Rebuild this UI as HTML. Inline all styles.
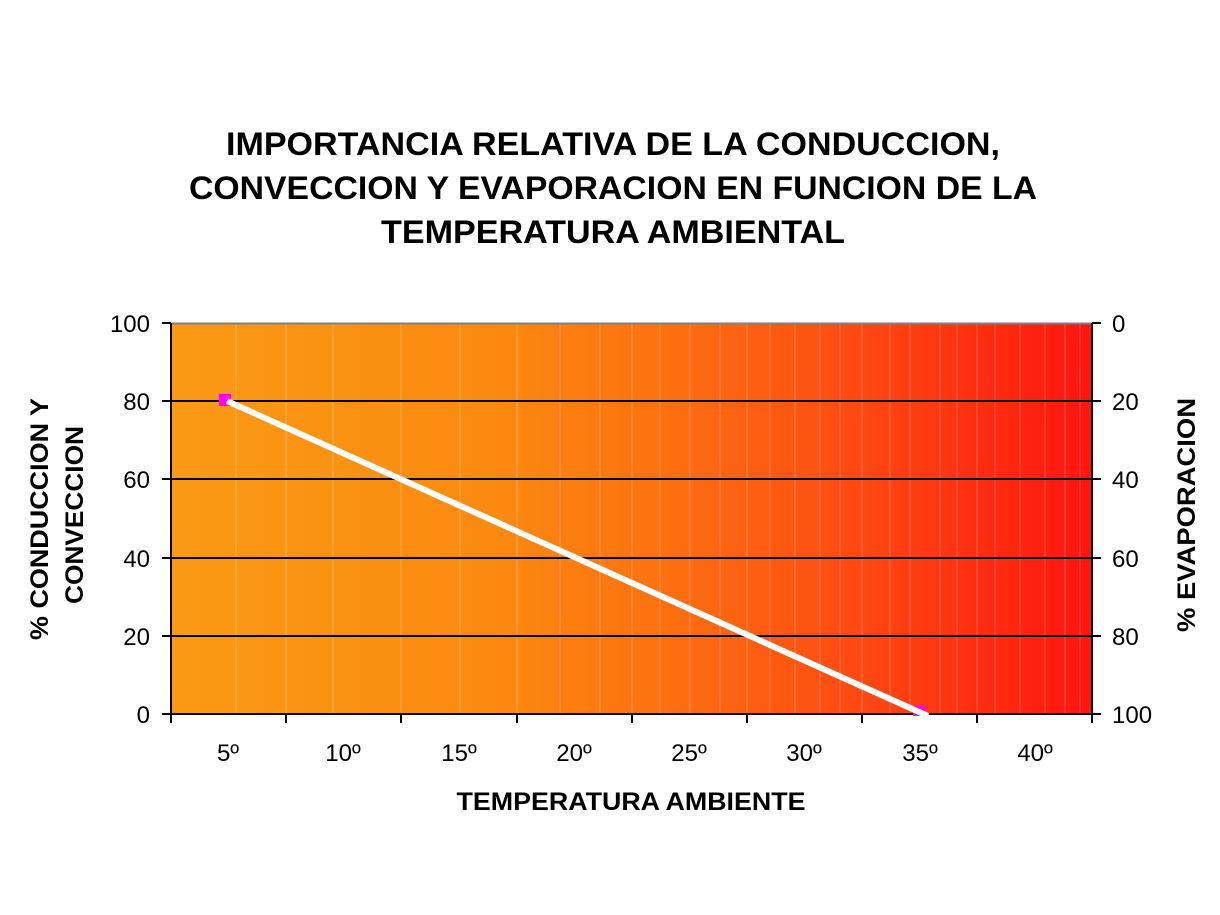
<!DOCTYPE html>
<html><head><meta charset="utf-8"><style>
body{margin:0;background:#fff;width:1220px;height:915px;overflow:hidden}
svg{display:block;font-family:"Liberation Sans",Arial,sans-serif}
</style></head><body>
<svg width="1220" height="915" viewBox="0 0 1220 915">
<defs>
<linearGradient id="g" x1="0" x2="1" y1="0" y2="0">
<stop offset="0" stop-color="#FA9A14"/>
<stop offset="0.35" stop-color="#FB8A10"/>
<stop offset="0.55" stop-color="#FC6E10"/>
<stop offset="0.75" stop-color="#FE4812"/>
<stop offset="1" stop-color="#FF140E"/>
</linearGradient>
</defs>
<g font-weight="bold" font-size="32" text-anchor="middle" fill="#000" lengthAdjust="spacingAndGlyphs">
<text x="613" y="155" textLength="774" lengthAdjust="spacingAndGlyphs">IMPORTANCIA RELATIVA DE LA CONDUCCION,</text>
<text x="613" y="199" textLength="848" lengthAdjust="spacingAndGlyphs">CONVECCION Y EVAPORACION EN FUNCION DE LA</text>
<text x="613" y="243" textLength="464" lengthAdjust="spacingAndGlyphs">TEMPERATURA AMBIENTAL</text>
</g>
<rect x="171" y="323" width="921" height="391" fill="url(#g)"/>
<g stroke="#fff" stroke-opacity="0.25" stroke-width="1">
<line x1="236" y1="323" x2="236" y2="714"/><line x1="286" y1="323" x2="286" y2="714"/><line x1="333" y1="323" x2="333" y2="714"/>
<line x1="401" y1="323" x2="401" y2="714"/><line x1="460" y1="323" x2="460" y2="714"/><line x1="517" y1="323" x2="517" y2="714"/>
<line x1="560" y1="323" x2="560" y2="714"/><line x1="600" y1="323" x2="600" y2="714"/><line x1="632" y1="323" x2="632" y2="714"/>
<line x1="660" y1="323" x2="660" y2="714"/><line x1="690" y1="323" x2="690" y2="714"/><line x1="720" y1="323" x2="720" y2="714"/>
<line x1="747" y1="323" x2="747" y2="714"/><line x1="770" y1="323" x2="770" y2="714"/><line x1="795" y1="323" x2="795" y2="714"/>
<line x1="820" y1="323" x2="820" y2="714"/><line x1="840" y1="323" x2="840" y2="714"/><line x1="862" y1="323" x2="862" y2="714"/>
<line x1="890" y1="323" x2="890" y2="714"/><line x1="910" y1="323" x2="910" y2="714"/><line x1="940" y1="323" x2="940" y2="714"/>
<line x1="957" y1="323" x2="957" y2="714"/><line x1="977" y1="323" x2="977" y2="714"/><line x1="995" y1="323" x2="995" y2="714"/>
<line x1="1020" y1="323" x2="1020" y2="714"/><line x1="1045" y1="323" x2="1045" y2="714"/><line x1="1065" y1="323" x2="1065" y2="714"/><line x1="1080" y1="323" x2="1080" y2="714"/>
</g>
<line x1="171" y1="323.5" x2="1092" y2="323.5" stroke="#808080" stroke-width="2"/>
<g stroke="#000" stroke-width="2">
<line x1="171" y1="401" x2="1092" y2="401"/><line x1="171" y1="479" x2="1092" y2="479"/>
<line x1="171" y1="558" x2="1092" y2="558"/><line x1="171" y1="636" x2="1092" y2="636"/>
<line x1="171" y1="714" x2="1092" y2="714"/>
<line x1="171" y1="323" x2="171" y2="714"/><line x1="1092" y1="323" x2="1092" y2="714"/>
<line x1="162" y1="323" x2="171" y2="323"/><line x1="162" y1="401" x2="171" y2="401"/><line x1="162" y1="479" x2="171" y2="479"/><line x1="162" y1="558" x2="171" y2="558"/><line x1="162" y1="636" x2="171" y2="636"/><line x1="162" y1="714" x2="171" y2="714"/>
<line x1="1092" y1="323" x2="1101" y2="323"/><line x1="1092" y1="401" x2="1101" y2="401"/><line x1="1092" y1="479" x2="1101" y2="479"/><line x1="1092" y1="558" x2="1101" y2="558"/><line x1="1092" y1="636" x2="1101" y2="636"/><line x1="1092" y1="714" x2="1101" y2="714"/>
<line x1="171" y1="714" x2="171" y2="723"/><line x1="286" y1="714" x2="286" y2="723"/><line x1="401" y1="714" x2="401" y2="723"/><line x1="517" y1="714" x2="517" y2="723"/><line x1="632" y1="714" x2="632" y2="723"/><line x1="747" y1="714" x2="747" y2="723"/><line x1="862" y1="714" x2="862" y2="723"/><line x1="977" y1="714" x2="977" y2="723"/><line x1="1092" y1="714" x2="1092" y2="723"/>
</g>
<rect x="219" y="394" width="12" height="12" fill="#FF00FF"/>
<rect x="913" y="706" width="12" height="10" fill="#FF00FF"/>
<line x1="227" y1="401" x2="928" y2="716" stroke="#fff" stroke-width="6"/>
<g font-size="24" fill="#000">
<g text-anchor="end">
<text x="150" y="332">100</text><text x="150" y="410">80</text><text x="150" y="488">60</text><text x="150" y="567">40</text><text x="150" y="645">20</text><text x="150" y="723">0</text>
</g>
<g text-anchor="start">
<text x="1112" y="332">0</text><text x="1112" y="410">20</text><text x="1112" y="488">40</text><text x="1112" y="567">60</text><text x="1112" y="645">80</text><text x="1112" y="723">100</text>
</g>
<g text-anchor="middle">
<text x="228" y="761">5º</text><text x="343" y="761">10º</text><text x="459" y="761">15º</text><text x="574" y="761">20º</text><text x="689" y="761">25º</text><text x="804" y="761">30º</text><text x="920" y="761">35º</text><text x="1035" y="761">40º</text>
</g>
</g>
<g font-weight="bold" font-size="25" text-anchor="middle" fill="#000">
<text x="631" y="810" textLength="349" lengthAdjust="spacingAndGlyphs">TEMPERATURA AMBIENTE</text>
<text transform="translate(48,519) rotate(-90)" textLength="242" lengthAdjust="spacingAndGlyphs">% CONDUCCION Y</text>
<text transform="translate(83,515) rotate(-90)" textLength="178" lengthAdjust="spacingAndGlyphs">CONVECCION</text>
<text transform="translate(1195,515) rotate(-90)" textLength="234" lengthAdjust="spacingAndGlyphs">% EVAPORACION</text>
</g>
</svg>
</body></html>
